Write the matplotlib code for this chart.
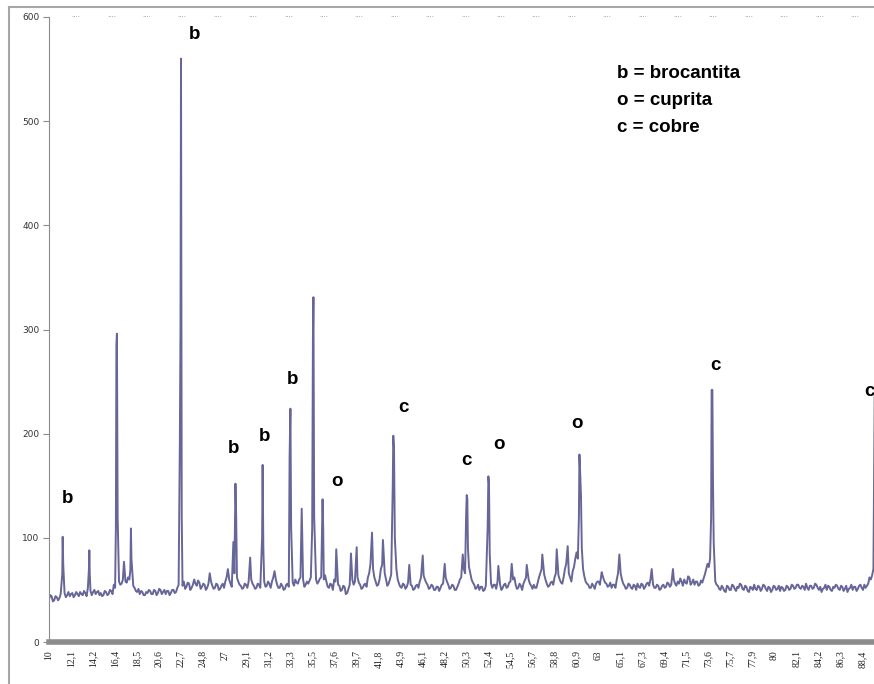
import numpy as np
import matplotlib.pyplot as plt
from matplotlib.lines import Line2D

# 2-theta sampling of the background trace (deg), counts
theta_grid = np.arange(10.0, 90.0, 0.25)
background = [
    # 10.00 - 14.75
    41, 44, 40, 43, 42, 58, 47, 45, 44, 47, 45, 46, 48, 45, 47, 52, 49, 48, 46, 49,
    # 15.00 - 19.75
    47, 45, 48, 46, 49, 55, 70, 58, 56, 62, 57, 60, 58, 52, 48, 46, 48, 45, 47, 49,
    # 20.00 - 24.75
    46, 49, 47, 50, 48, 46, 49, 47, 50, 48, 55, 60, 58, 53, 56, 52, 60, 54, 57, 53,
    # 25.00 - 29.75
    55, 52, 66, 54, 52, 55, 51, 56, 58, 70, 56, 62, 60, 58, 54, 52, 55, 58, 60, 54,
    # 30.00 - 34.75
    52, 55, 62, 58, 54, 56, 58, 68, 55, 52, 54, 51, 56, 62, 57, 60, 56, 62, 60, 55,
    # 35.00 - 39.75
    56, 62, 60, 60, 58, 62, 60, 58, 52, 55, 60, 60, 54, 50, 53, 47, 55, 60, 58, 62,
    # 40.00 - 44.75
    55, 52, 56, 62, 75, 70, 58, 55, 70, 78, 60, 56, 65, 60, 70, 56, 52, 55, 53, 60,
    # 45.00 - 49.75
    54, 51, 55, 58, 60, 60, 55, 52, 54, 50, 53, 52, 56, 62, 55, 52, 54, 50, 56, 62,
    # 50.00 - 54.75
    70, 60, 72, 60, 55, 52, 50, 53, 50, 58, 70, 52, 55, 58, 55, 52, 56, 53, 58, 60,
    # 55.00 - 59.75
    55, 52, 54, 56, 62, 60, 54, 55, 52, 62, 70, 65, 56, 54, 58, 62, 60, 60, 56, 70,
    # 60.00 - 64.75
    60, 62, 68, 80, 80, 80, 70, 58, 55, 52, 54, 56, 58, 62, 60, 56, 54, 52, 55, 60,
    # 65.00 - 69.75
    60, 60, 54, 52, 55, 51, 54, 56, 52, 55, 53, 57, 60, 55, 52, 54, 51, 55, 53, 56,
    # 70.00 - 74.75
    55, 60, 54, 56, 58, 60, 56, 62, 57, 55, 58, 55, 57, 65, 75, 80, 80, 58, 54, 50,
    # 75.00 - 79.75
    52, 48, 53, 50, 54, 49, 52, 55, 50, 53, 48, 52, 55, 50, 53, 51, 54, 49, 52, 50,
    # 80.00 - 84.75
    53, 51, 49, 52, 50, 53, 51, 54, 52, 55, 51, 53, 56, 50, 54, 52, 55, 50, 48, 52,
    # 85.00 - 89.75
    50, 53, 49, 52, 54, 50, 53, 51, 48, 52, 50, 53, 51, 55, 50, 52, 56, 60, 70, 240,
]
# the same trace at the in-between positions (grid + 0.125 deg)
background_mid = [
    45, 39, 44, 40, 46, 50, 43, 48, 46, 43, 48, 44, 46, 49, 44, 47, 45, 50, 48, 45,
    44, 49, 45, 50, 46, 52, 62, 55, 60, 58, 62, 56, 54, 49, 51, 49, 45, 48, 50, 46,
    50, 45, 51, 46, 50, 49, 45, 50, 47, 52, 58, 54, 51, 57, 50, 55, 56, 59, 51, 56,
    50, 56, 58, 51, 56, 50, 54, 52, 62, 60, 53, 66, 62, 55, 51, 56, 52, 62, 56, 51,
    56, 52, 60, 53, 58, 52, 62, 60, 52, 56, 50, 55, 53, 60, 54, 57, 60, 58, 53, 58,
    59, 66, 62, 56, 61, 58, 64, 53, 56, 50, 58, 55, 49, 54, 46, 51, 58, 55, 61, 57,
    51, 55, 53, 66, 72, 62, 54, 60, 74, 66, 54, 60, 72, 62, 60, 53, 56, 51, 57, 55,
    50, 54, 52, 62, 64, 57, 51, 55, 50, 53, 49, 55, 60, 58, 51, 55, 50, 53, 60, 68,
    66, 64, 66, 57, 51, 55, 53, 49, 54, 62, 56, 55, 51, 62, 50, 55, 52, 57, 55, 62,
    51, 56, 50, 59, 66, 56, 51, 52, 57, 66, 68, 60, 53, 57, 55, 66, 64, 57, 62, 75,
    66, 58, 72, 86, 80, 80, 63, 56, 52, 56, 51, 58, 55, 64, 57, 53, 57, 55, 52, 66,
    66, 56, 51, 56, 52, 55, 50, 53, 56, 51, 56, 54, 64, 52, 55, 50, 54, 52, 57, 53,
    62, 56, 58, 61, 54, 57, 63, 55, 60, 58, 54, 59, 61, 70, 72, 80, 75, 55, 51, 54,
    49, 54, 50, 55, 51, 53, 56, 51, 54, 49, 53, 50, 51, 54, 49, 55, 51, 53, 48, 54,
    50, 54, 53, 49, 54, 50, 55, 51, 55, 52, 54, 50, 52, 54, 51, 56, 52, 53, 51, 55,
    54, 50, 53, 55, 51, 54, 49, 54, 51, 55, 53, 49, 54, 52, 55, 54, 62, 64, 240, 240,
]

# diffraction peaks: 2-theta (deg) and counts, including shoulders
peak_theta = [
    11.28, 11.32, 11.37, 13.85, 13.89, 13.93,
    16.45, 16.50, 16.55, 16.62, 17.23, 17.85, 17.90, 17.95,
    22.62, 22.68, 22.73, 22.80, 27.78, 27.98, 28.05, 29.40,
    30.55, 30.60, 30.67, 33.20, 33.28, 33.35, 34.37, 34.42,
    35.38, 35.45, 35.50, 35.57, 36.38, 36.44, 37.70, 39.12, 39.67,
    41.15, 42.20, 43.15, 43.20, 43.27, 43.35, 44.74, 46.04, 48.16, 49.90,
    50.22, 50.28, 50.34, 50.40, 52.30, 52.37, 52.43, 52.50,
    53.33, 54.62, 56.07, 57.57, 58.96, 60.02,
    61.10, 61.15, 61.22, 61.30, 61.38, 63.30, 65.00, 68.12, 70.17,
    73.85, 73.90, 73.97, 74.03, 74.10,
]
peak_counts = [
    65, 101, 75, 70, 88, 65,
    110, 285, 296, 120, 77, 70, 109, 80,
    195, 300, 560, 120, 96, 152, 120, 81,
    100, 170, 90, 177, 224, 110, 128, 100,
    109, 290, 331, 120, 137, 110, 89, 85, 91,
    105, 98, 150, 198, 186, 100, 74, 83, 75, 84,
    120, 141, 138, 90, 110, 159, 152, 85,
    73, 75, 74, 84, 89, 92,
    120, 180, 163, 140, 90, 67, 84, 70, 70,
    120, 242, 242, 153, 95,
]

tick_labels = [
    "10", "12,1", "14,2", "16,4", "18,5", "20,6", "22,7", "24,8", "27", "29,1",
    "31,2", "33,3", "35,5", "37,6", "39,7", "41,8", "43,9", "46,1", "48,2", "50,3",
    "52,4", "54,5", "56,7", "58,8", "60,9", "63", "65,1", "67,3", "69,4", "71,5",
    "73,6", "75,7", "77,9", "80", "82,1", "84,2", "86,3", "88,4",
]

# phase letters over the peaks
letters = [
    ("b", 24.08, 583), ("b", 11.74, 138), ("b", 27.84, 186), ("b", 30.83, 197),
    ("b", 33.53, 252), ("o", 37.77, 154), ("c", 44.14, 225), ("c", 50.21, 174),
    ("o", 53.39, 190), ("o", 60.92, 210), ("c", 74.22, 265), ("c", 89.07, 240),
]

# merge background and peaks into one trace
bg_x = np.concatenate([theta_grid, theta_grid + 0.125])
bg_y = np.concatenate([background, background_mid])
peak_arr = np.array(peak_theta)
keep = np.array([np.min(np.abs(peak_arr - t)) > 0.06 for t in bg_x])
x = np.concatenate([bg_x[keep], peak_arr])
y = np.concatenate([bg_y[keep], np.array(peak_counts)])
order = np.argsort(x)
x, y = x[order], y[order]

W, H = 874, 684
fig = plt.figure(figsize=(W / 100, H / 100), dpi=100)
px_per_deg = 10.37
ax = fig.add_axes([49 / W, 42 / H, 80 * px_per_deg / W, 625 / H])

ax.plot(x, y, color="#666699", linewidth=1.4)
ax.set_xlim(10, 90)
ax.set_ylim(0, 600)

ax.spines["top"].set_visible(False)
ax.spines["right"].set_visible(False)
ax.spines["left"].set_color("#8c8c8c")
ax.spines["bottom"].set_color("#8c8c8c")
ax.spines["bottom"].set_linewidth(4)

ax.set_yticks(range(0, 601, 100))
ax.tick_params(axis="y", direction="out", length=4, color="#8c8c8c",
               labelsize=6.5, labelcolor="#333333", pad=3)
ax.set_xticks(np.linspace(10, 88.4, len(tick_labels)))
ax.set_xticklabels(tick_labels, rotation=90, family="Liberation Serif",
                   fontsize=7, color="#222222")
ax.tick_params(axis="x", length=0, pad=6)

for lab, lx, ly in letters:
    ax.text(lx, ly, lab, fontsize=13.5, fontweight="bold", family="Liberation Sans",
            ha="center", va="center", clip_on=False)

for i, line in enumerate(["b = brocantita", "o = cuprita", "c = cobre"]):
    fig.text(617 / W, 1 - (73 + 27.5 * i) / H, line, fontsize=13.5,
             fontweight="bold", family="Liberation Sans", va="center")

# faint dotted marks along the top of the chart area
for k in range(23):
    fig.text((76 + 35.4 * k) / W, 1 - 17 / H, "····", fontsize=5,
             color="#8f8f8f", ha="center", va="center")

# outer chart frame (left and top edges)
fig.add_artist(Line2D([9 / W, 9 / W], [0, 1 - 7 / H], color="#a6a6a6",
                      linewidth=1.5, transform=fig.transFigure))
fig.add_artist(Line2D([9 / W, 1], [1 - 7 / H, 1 - 7 / H], color="#a6a6a6",
                      linewidth=1.5, transform=fig.transFigure))

fig.savefig("out.png", dpi=100)
